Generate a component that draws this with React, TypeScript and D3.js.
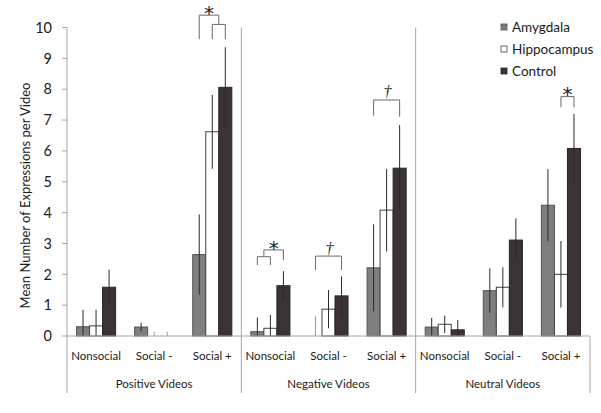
import React from "react";
import * as d3 from "d3";

const groups = ["Positive Videos", "Negative Videos", "Neutral Videos"];
const categories = ["Nonsocial", "Social -", "Social +"];
const series = ["Amygdala", "Hippocampus", "Control"];
const yTicks = [0, 1, 2, 3, 4, 5, 6, 7, 8, 9, 10];

// values[group][category]
const amygdalaValues = [
  [0.3, 0.29, 2.64],
  [0.14, 0.0, 2.21],
  [0.29, 1.47, 4.24],
];
const amygdalaErrors = [
  [0.55, 0.14, 1.3],
  [0.46, 0.65, 1.41],
  [0.3, 0.72, 1.17],
];
const hippocampusValues = [
  [0.33, 0.0, 6.62],
  [0.25, 0.87, 4.08],
  [0.38, 1.58, 2.0],
];
const hippocampusErrors = [
  [0.52, 0.14, 1.2],
  [0.43, 0.62, 1.34],
  [0.28, 0.65, 1.08],
];
const controlValues = [
  [1.58, 0.0, 8.06],
  [1.63, 1.3, 5.44],
  [0.2, 3.11, 6.08],
];
const controlErrors = [
  [0.57, 0.14, 1.3],
  [0.47, 0.63, 1.4],
  [0.32, 0.7, 1.12],
];

// significance brackets (values in data units)
const brackets = [
  { g: 0, c: 2, from: 1, to: 2, top: 10.1, lb: 9.62, rb: 9.62, sym: "", fromMid: -1 },
  { g: 0, c: 2, from: 0, to: -1, top: 10.4, lb: 9.62, rb: 10.1, sym: "*", fromMid: 0 },
  { g: 1, c: 0, from: 0, to: 1, top: 2.57, lb: 2.3, rb: 2.3, sym: "", fromMid: -1 },
  { g: 1, c: 0, from: -1, to: 2, top: 2.79, lb: 2.57, rb: 2.46, sym: "*", fromMid: 2 },
  { g: 1, c: 1, from: 0, to: 2, top: 2.59, lb: 2.14, rb: 2.14, sym: "†", fromMid: -1 },
  { g: 1, c: 2, from: 0, to: 2, top: 7.65, lb: 7.14, rb: 7.11, sym: "†", fromMid: -1 },
  { g: 2, c: 2, from: 1, to: 2, top: 7.76, lb: 7.41, rb: 7.41, sym: "*", fromMid: -1 },
];

const fills = ["#7f7f7f", "#ffffff", "#3b3335"];
const strokes = ["#555555", "#404040", "#2a2426"];

const W = 601;
const H = 413;
const left = 67;
const right = 590;
const top = 27.5;
const bottom = 336;
const catBottom = 393;
const font = "Lato, 'Open Sans', sans-serif";

export default function App() {
  const y = d3.scaleLinear().domain([0, 10]).range([bottom, top]);
  const xg = d3.scaleBand<number>().domain([0, 1, 2]).range([left, right]).padding(0);
  const xc = d3.scaleBand<number>().domain([0, 1, 2]).range([0, xg.bandwidth()]).padding(0);
  const xs = d3
    .scaleBand<number>()
    .domain([0, 1, 2])
    .range([0, xc.bandwidth()])
    .paddingInner(0)
    .paddingOuter(0.73);

  const vals = [amygdalaValues, hippocampusValues, controlValues];
  const errs = [amygdalaErrors, hippocampusErrors, controlErrors];

  const barX = (g: number, c: number, s: number) => (xg(g) ?? 0) + (xc(c) ?? 0) + (xs(s) ?? 0);
  const barCenter = (g: number, c: number, s: number) => barX(g, c, s) + xs.bandwidth() / 2;

  const bars: React.ReactNode[] = [];
  const errBars: React.ReactNode[] = [];
  groups.forEach((_, g) => {
    categories.forEach((_, c) => {
      series.forEach((_, s) => {
        const v = vals[s][g][c];
        const e = errs[s][g][c];
        const x0 = barX(g, c, s);
        if (v > 0) {
          bars.push(
            <rect
              key={`b${g}${c}${s}`}
              x={x0}
              y={y(v)}
              width={xs.bandwidth()}
              height={y(0) - y(v)}
              fill={fills[s]}
              stroke={strokes[s]}
              strokeWidth={1}
            />
          );
        }
        const cx = barCenter(g, c, s);
        errBars.push(
          <line
            key={`e${g}${c}${s}`}
            x1={cx}
            x2={cx}
            y1={y(v + e)}
            y2={y(Math.max(0, v - e))}
            stroke={v > 0 ? "#2a2a2a" : "#9a9a9a"}
            strokeWidth={1}
          />
        );
      });
    });
  });

  const bracketEls: React.ReactNode[] = [];
  const mids: number[] = [];
  brackets.forEach((b, i) => {
    const lx = b.from >= 0 ? barCenter(b.g, b.c, b.from) : mids[b.fromMid];
    const rx = b.to >= 0 ? barCenter(b.g, b.c, b.to) : mids[b.fromMid];
    mids[i] = (lx + rx) / 2;
    const d = `M${lx},${y(b.lb)}V${y(b.top)}H${rx}V${y(b.rb)}`;
    bracketEls.push(<path key={`br${i}`} d={d} fill="none" stroke="#6a6a6a" strokeWidth={1} />);
    if (b.sym) {
      const isStar = b.sym === "*";
      bracketEls.push(
        <text
          key={`bs${i}`}
          x={(lx + rx) / 2 + (isStar ? 0 : 1)}
          y={isStar ? y(b.top) + 4.6 : y(b.top) - 2.5}
          textAnchor="middle"
          fontFamily={isStar ? "'DejaVu Sans', sans-serif" : "'Liberation Serif', serif"}
          fontStyle={isStar ? "normal" : "italic"}
          fontSize={isStar ? 20 : 16}
          fill="#222"
        >
          {b.sym}
        </text>
      );
    }
  });

  const axisColor = "#a6a6a6";

  return (
    <svg width={W} height={H} style={{ position: "absolute", left: 0, top: 0, background: "#fff" }}>
      {[0, 1, 2].map((g) => (
        <line
          key={`sep${g}`}
          x1={xg(g) ?? 0}
          x2={xg(g) ?? 0}
          y1={top}
          y2={catBottom}
          stroke={axisColor}
          strokeWidth={1}
        />
      ))}
      <line x1={right} x2={right} y1={bottom} y2={catBottom} stroke={axisColor} strokeWidth={1} />
      {yTicks.map((t) => (
        <g key={`t${t}`}>
          <line x1={left - 5} x2={left} y1={y(t)} y2={y(t)} stroke={axisColor} strokeWidth={1} />
          <text
            x={52}
            y={y(t)}
            dy="0.36em"
            textAnchor="end"
            fontFamily={font}
            fontSize={14.5}
            fill="#1a1a1a"
          >
            {t}
          </text>
        </g>
      ))}
      {bars}
      {errBars}
      <line x1={left} x2={right} y1={bottom} y2={bottom} stroke={axisColor} strokeWidth={1} />
      {bracketEls}
      {groups.map((gName, g) => (
        <g key={`gl${g}`}>
          {categories.map((cName, c) => (
            <text
              key={`cl${g}${c}`}
              x={(xg(g) ?? 0) + (xc(c) ?? 0) + xc.bandwidth() / 2}
              y={356}
              dy="0.35em"
              textAnchor="middle"
              fontFamily={font}
              fontSize={11.5}
              fill="#1a1a1a"
            >
              {cName}
            </text>
          ))}
          <text
            x={(xg(g) ?? 0) + xg.bandwidth() / 2}
            y={383.5}
            dy="0.35em"
            textAnchor="middle"
            fontFamily={font}
            fontSize={11.5}
            fill="#1a1a1a"
          >
            {gName}
          </text>
        </g>
      ))}
      <text
        transform={`translate(25,195.5) rotate(-90)`}
        textAnchor="middle"
        dy="0.35em"
        fontFamily={font}
        fontSize={13}
        fill="#1a1a1a"
      >
        Mean Number of Expressions per Video
      </text>
      {series.map((s, i) => (
        <g key={`lg${i}`} transform={`translate(501,${27 + i * 22})`}>
          <rect x={0} y={-3} width={6} height={6} fill={fills[i]} stroke={strokes[i]} strokeWidth={0.8} />
          <text x={11} y={0} dy="0.36em" fontFamily={font} fontSize={13.5} fill="#1a1a1a">
            {s}
          </text>
        </g>
      ))}
    </svg>
  );
}
